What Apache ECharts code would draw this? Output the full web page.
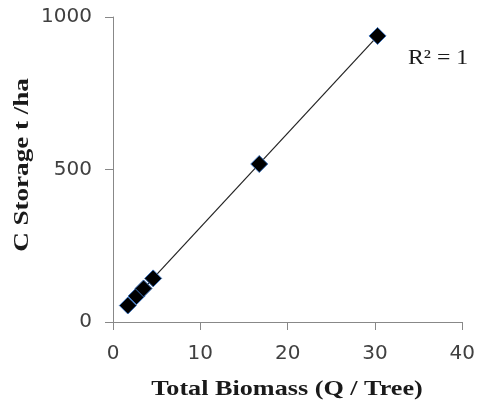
<!DOCTYPE html>
<html><head><meta charset="utf-8">
<script src="https://cdn.jsdelivr.net/npm/echarts@6/dist/echarts.min.js"></script>
<style>html,body{margin:0;padding:0;background:#fff}#c{width:478px;height:407px}</style>
</head><body><div id="c"></div>
<script>
var biomass = [1.7, 2.7, 3.5, 4.6, 16.75, 30.3];
var storage = [54, 85, 110, 143, 518, 938];
var xTicks = [0, 10, 20, 30, 40];
var yTicks = [0, 500, 1000];
var xTitle = 'Total Biomass (Q / Tree)';
var yTitle = 'C Storage t /ha';
var r2Label = 'R² = 1';

// least-squares trendline computed from the data
var n = biomass.length, sx = 0, sy = 0, sxx = 0, sxy = 0;
for (var i = 0; i < n; i++) { sx += biomass[i]; sy += storage[i]; sxx += biomass[i]*biomass[i]; sxy += biomass[i]*storage[i]; }
var slope = (n*sxy - sx*sy) / (n*sxx - sx*sx);
var icpt = (sy - slope*sx) / n;
var xmin = Math.min.apply(null, biomass), xmax = Math.max.apply(null, biomass);
var trend = [[xmin, icpt + slope*xmin], [xmax, icpt + slope*xmax]];
var pts = biomass.map(function (x, i) { return [x, storage[i]]; });

var titleFont = 'bold 22px "Liberation Serif"';
var chart = echarts.init(document.getElementById('c'));
chart.setOption({
  animation: false,
  grid: { left: 113, right: 15, top: 17, bottom: 85 },
  xAxis: {
    type: 'value', min: xTicks[0], max: xTicks[xTicks.length-1], interval: 10,
    splitLine: { show: false },
    axisLine: { show: true, lineStyle: { color: '#888', width: 1 } },
    axisTick: { show: true, length: 8, lineStyle: { color: '#888' } },
    axisLabel: { margin: 22, fontFamily: 'DejaVu Sans', fontSize: 20, color: '#404040', formatter: function (v) { return String(v); } }
  },
  yAxis: {
    type: 'value', min: yTicks[0], max: yTicks[yTicks.length-1], interval: 500,
    splitLine: { show: false },
    axisLine: { show: true, lineStyle: { color: '#888', width: 1 } },
    axisTick: { show: true, length: 8, lineStyle: { color: '#888' } },
    axisLabel: { margin: 21, fontFamily: 'DejaVu Sans', fontSize: 20, color: '#404040', formatter: function (v) { return String(v); } }
  },
  graphic: [
    { type: 'text', x: 287, y: 389, scaleX: 1.19,
      style: { text: xTitle, font: titleFont, fill: '#1a1a1a', align: 'center', verticalAlign: 'middle' } },
    { type: 'text', x: 22, y: 165, rotation: Math.PI / 2, scaleX: 1.23,
      style: { text: yTitle, font: titleFont, fill: '#1a1a1a', align: 'center', verticalAlign: 'middle' } },
    { type: 'text', x: 408, y: 58, scaleX: 1.08,
      style: { text: r2Label, font: '22px "Liberation Serif"', fill: '#1a1a1a', align: 'left', verticalAlign: 'middle' } }
  ],
  series: [
    { type: 'line', data: trend, symbol: 'none', lineStyle: { color: '#222', width: 1.2 }, z: 1 },
    { type: 'scatter', data: pts, symbol: 'diamond', symbolSize: [17, 17],
      itemStyle: { color: '#000', borderColor: '#3b6fb6', borderWidth: 1, opacity: 1 }, z: 2 }
  ]
});
</script></body></html>
